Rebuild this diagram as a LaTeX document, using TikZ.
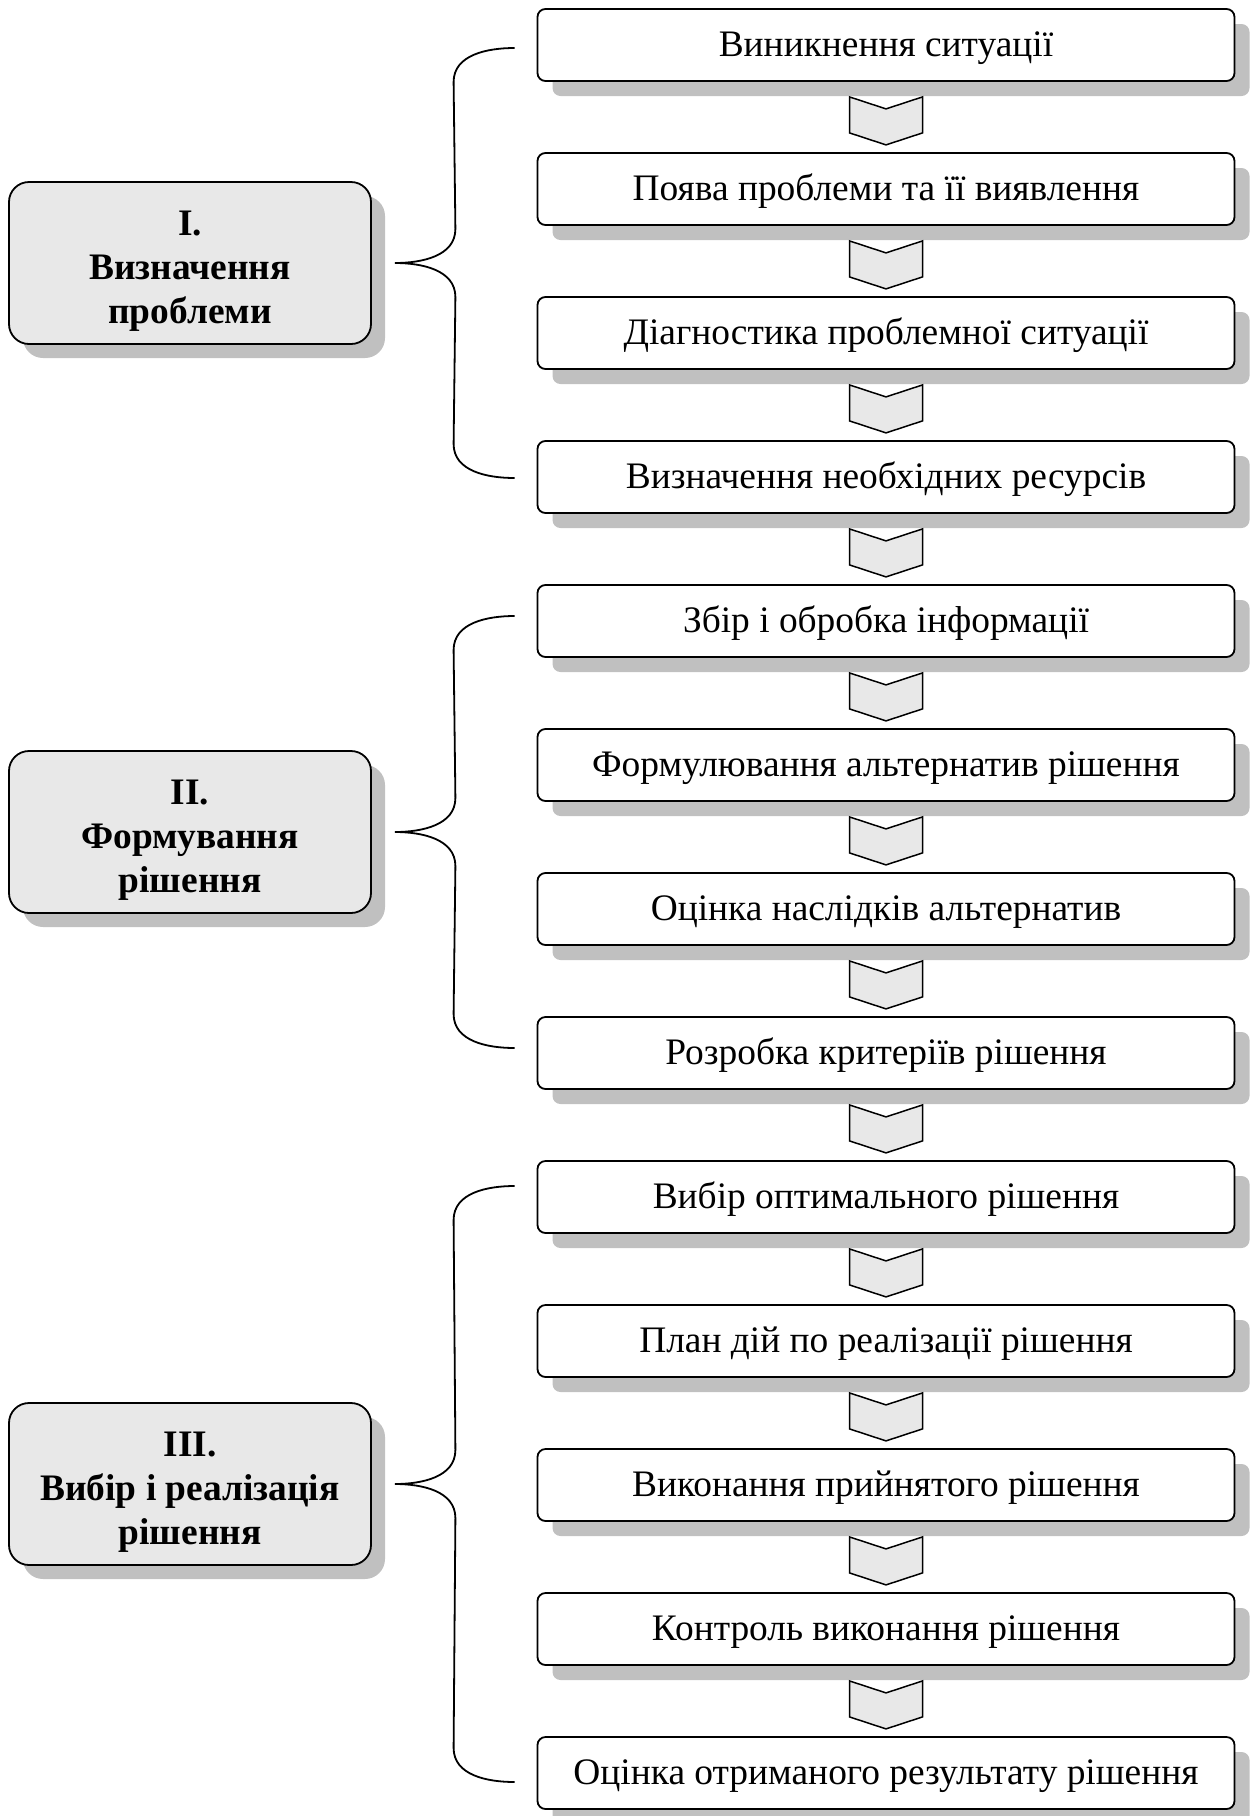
\documentclass[tikz,border=0pt]{standalone}
\usepackage{fontspec}
\setmainfont{Liberation Serif}
\usetikzlibrary{shadows,calc}
\definecolor{shadowgray}{RGB}{192,192,192}
\definecolor{boxgray}{RGB}{232,232,232}
\definecolor{chevgray}{RGB}{232,232,232}
\newcommand\drawbrace[3]{%
  \draw[brc] (#1) to[out=180,in=90] ($(#1)+(-61,-34)$) -- ($(#2)+(60.5,34)$)
    to[out=-90,in=0] (#2) to[out=0,in=90] ($(#2)+(60.5,-34)$)
    -- ($(#3)+(-61,34)$) to[out=-90,in=180] (#3);}
\newcommand\phtext[1]{\raisebox{-4pt}[\height][\depth]{\begin{tabular}{@{}c@{}}#1\end{tabular}}}
\begin{document}
\begin{tikzpicture}[x=0.5pt,y=0.5pt,
  stepbox/.style={draw, line width=0.9pt, fill=white, rounded corners=4pt,
    minimum width=348.5pt, minimum height=36pt, inner sep=0pt,
    text height=13pt, text depth=2pt,
    font=\fontsize{18.7}{22}\selectfont,
    drop shadow={shadow xshift=7.5pt, shadow yshift=-7.5pt, fill=shadowgray, opacity=1}},
  phasebox/.style={draw, line width=0.9pt, fill=boxgray, rounded corners=10pt,
    minimum width=181pt, minimum height=81pt, inner sep=0pt, align=center,
    font=\fontsize{18.7}{22}\selectfont\bfseries,
    drop shadow={shadow xshift=7pt, shadow yshift=-7pt, fill=shadowgray, opacity=1}},
  chevline/.style={draw, line width=0.75pt, fill=chevgray, line join=miter},
  brc/.style={draw, line width=0.9pt},
  chev/.pic={\path[chevline] (-36.5,-15) -- (0,-27) -- (36.5,-15) -- (36.5,-51) -- (0,-63) -- (-36.5,-51) -- cycle;}
]
\useasboundingbox (0,0) rectangle (1250,-1816);

\node[stepbox] (b1) at (886,-45) {Виникнення ситуації};
\node[stepbox] (b2) at (886,-189) {Поява проблеми та її виявлення};
\node[stepbox] (b3) at (886,-333) {Діагностика проблемної ситуації};
\node[stepbox] (b4) at (886,-477) {Визначення необхідних ресурсів};
\node[stepbox] (b5) at (886,-621) {Збір і обробка інформації};
\node[stepbox] (b6) at (886,-765) {Формулювання альтернатив рішення};
\node[stepbox] (b7) at (886,-909) {Оцінка наслідків альтернатив};
\node[stepbox] (b8) at (886,-1053) {Розробка критеріїв рішення};
\node[stepbox] (b9) at (886,-1197) {Вибір оптимального рішення};
\node[stepbox] (b10) at (886,-1341) {План дій по реалізації рішення};
\node[stepbox] (b11) at (886,-1485) {Виконання прийнятого рішення};
\node[stepbox] (b12) at (886,-1629) {Контроль виконання рішення};
\node[stepbox] (b13) at (886,-1773) {Оцінка отриманого результату рішення};

\foreach \i in {1,...,12} { \pic at (b\i.south) {chev}; }

\node[phasebox] (L1) at (190,-263) {\phtext{I.\\Визначення\\проблеми}};
\node[phasebox] (L2) at (190,-832) {\phtext{II.\\Формування\\рішення}};
\node[phasebox] (L3) at (190,-1484) {\phtext{III.\\Вибір і реалізація\\рішення}};

\coordinate (u1) at ($(b1.west)+(-22,-3)$);
\coordinate (d1) at ($(b4.west)+(-22,-1)$);
\coordinate (k1) at ($(L1.east)+(23,0)$);
\coordinate (u2) at ($(b5.west)+(-22,5)$);
\coordinate (d2) at ($(b8.west)+(-22,5)$);
\coordinate (k2) at ($(L2.east)+(23,0)$);
\coordinate (u3) at ($(b9.west)+(-22,11)$);
\coordinate (d3) at ($(b13.west)+(-22,-9)$);
\coordinate (k3) at ($(L3.east)+(23,0)$);

\drawbrace{u1}{k1}{d1}
\drawbrace{u2}{k2}{d2}
\drawbrace{u3}{k3}{d3}
\end{tikzpicture}
\end{document}
